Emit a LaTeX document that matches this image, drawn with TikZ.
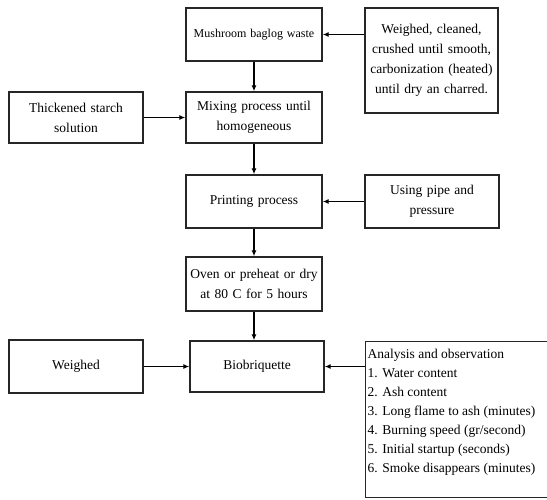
\documentclass[tikz,border=0pt]{standalone}
\usepackage{fontspec}
\setmainfont{Liberation Serif}
\usetikzlibrary{arrows.meta}
\tikzset{
	stagebox/.style={draw=black!85, line width=1.4pt, fill=white, align=center, inner sep=2pt, font=\fontsize{13.5}{20}\selectfont},
	flow/.style={line width=1.3pt, -{Latex[length=6pt,width=5pt]}}
}

\begin{document}
\begin{tikzpicture}[x=1pt, y=-1pt]
			%%%%% START %%%%%
			
			\useasboundingbox (0, 0) rectangle (547, 499);
			
			\node[stagebox, minimum width=136, minimum height=53, text width=130, font=\fontsize{12}{16}\selectfont] (waste) at (254, 34.5) {Mushroom baglog waste};
			\node[stagebox, minimum width=133, minimum height=105, text width=128] (prep) at (431.5, 60.5) {Weighed, cleaned,\\ crushed until smooth,\\ carbonization (heated)\\ until dry an charred.};
			
			\node[stagebox, minimum width=134, minimum height=51, text width=128] (starch) at (76, 117.5) {Thickened starch\\ solution};
			\node[stagebox, minimum width=136, minimum height=51, text width=130] (mixing) at (254, 117.5) {Mixing process until\\ homogeneous};
			
			\node[stagebox, minimum width=136, minimum height=53, text width=130] (printing) at (254, 201.5) {Printing process};
			\node[stagebox, minimum width=134, minimum height=53, text width=128] (pipe) at (432, 201.5) {Using pipe and\\ pressure};
			
			\node[stagebox, minimum width=136, minimum height=54, text width=130] (oven) at (254, 284) {Oven or preheat or dry\\ at 80 C for 5 hours};
			
			\node[stagebox, minimum width=134, minimum height=53, text width=128] (weighed) at (76, 366.5) {Weighed};
			\node[stagebox, minimum width=134, minimum height=51, text width=128] (bio) at (257, 366.5) {Biobriquette};
			\node[stagebox, anchor=north west, inner sep=2pt, align=left, font=\fontsize{13.5}{19}\selectfont] (analysis) at (365, 341) {\parbox[t][152pt][t]{180pt}{\raggedright \rule{0pt}{15pt}Analysis and observation\\ 1. Water content\\ 2. Ash content\\ 3. Long flame to ash (minutes)\\ 4. Burning speed (gr/second)\\ 5. Initial startup (seconds)\\ 6. Smoke disappears (minutes)}};
			
			\draw[flow] (prep.west |- waste.east) -- (waste.east);
			\draw[flow] (waste) -- (mixing);
			\draw[flow] (starch) -- (mixing);
			\draw[flow] (mixing) -- (printing);
			\draw[flow] (pipe) -- (printing);
			\draw[flow] (printing) -- (oven);
			\draw[flow] (oven.south) -- (oven.south |- bio.north);
			\draw[flow] (weighed) -- (bio);
			\draw[flow] (analysis.west |- bio.east) -- (bio.east);
			
			%%%%% END %%%%%
		\end{tikzpicture}
\end{document}
